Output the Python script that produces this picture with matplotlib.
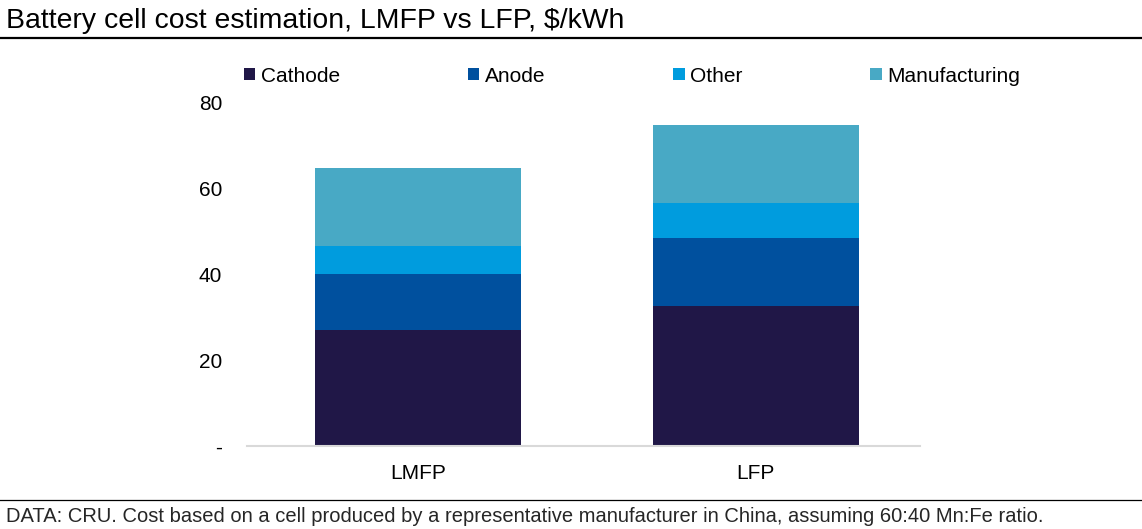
import numpy as np
import matplotlib.pyplot as plt
from matplotlib.patches import Patch
from matplotlib.lines import Line2D

plt.rcParams['font.family'] = ['Liberation Sans', 'DejaVu Sans']

categories = ["LMFP", "LFP"]
components = ["Cathode", "Anode", "Other", "Manufacturing"]
cathode = [27.0, 32.6]
anode = [13.1, 15.8]
other = [6.6, 8.3]
manufacturing = [18.1, 18.1]
colors = ["#201747", "#00509e", "#009cde", "#48a9c5"]

W, H = 1142, 529
fig = plt.figure(figsize=(W / 100, H / 100), dpi=100)
ax = fig.add_axes([247 / W, 1 - 446 / H, (920 - 247) / W, (446 - 102.7) / H])

x = np.arange(len(categories))
bottom = np.zeros(len(categories))
for vals, col, name in zip([cathode, anode, other, manufacturing], colors, components):
    ax.bar(x, vals, 0.61, bottom=bottom, color=col, label=name, zorder=2)
    bottom += np.array(vals)

ax.set_xlim(-0.507, 1.487)
ax.set_ylim(0, 80)
ax.set_yticks([0, 20, 40, 60, 80])
ax.set_yticklabels(["-", "20", "40", "60", "80"])
ax.set_xticks(x)
ax.set_xticklabels(categories)
ax.tick_params(axis="both", length=0, labelsize=15, colors="black")
ax.tick_params(axis="y", pad=18)
ax.tick_params(axis="x", pad=13)
for s in ["top", "right", "left"]:
    ax.spines[s].set_visible(False)
ax.spines["bottom"].set_color("#d9d9d9")
ax.spines["bottom"].set_linewidth(1.5)

handles = [Patch(facecolor=c, edgecolor="none") for c in colors]
fig.legend(handles, components, ncol=4, loc="center left",
           bbox_to_anchor=(244 / W, 1 - 76 / H), frameon=False, fontsize=15,
           handlelength=0.55, handleheight=0.55, handletextpad=0.25,
           columnspacing=6.15, borderpad=0, borderaxespad=0)

fig.text(6 / W, 1 - 21 / H, "Battery cell cost estimation, LMFP vs LFP, $/kWh",
         fontsize=20.4, va="center", ha="left")
fig.add_artist(Line2D([0, 1], [1 - 38 / H, 1 - 38 / H], color="black", lw=1.6,
                      transform=fig.transFigure))
fig.add_artist(Line2D([0, 1], [1 - 500 / H, 1 - 500 / H], color="black", lw=0.9,
                      transform=fig.transFigure))
fig.text(6 / W, 1 - 516 / H,
         "DATA: CRU. Cost based on a cell produced by a representative manufacturer in China, assuming 60:40 Mn:Fe ratio.",
         fontsize=14.5, va="center", ha="left", color="#262626")

fig.savefig("out.png", dpi=100)
